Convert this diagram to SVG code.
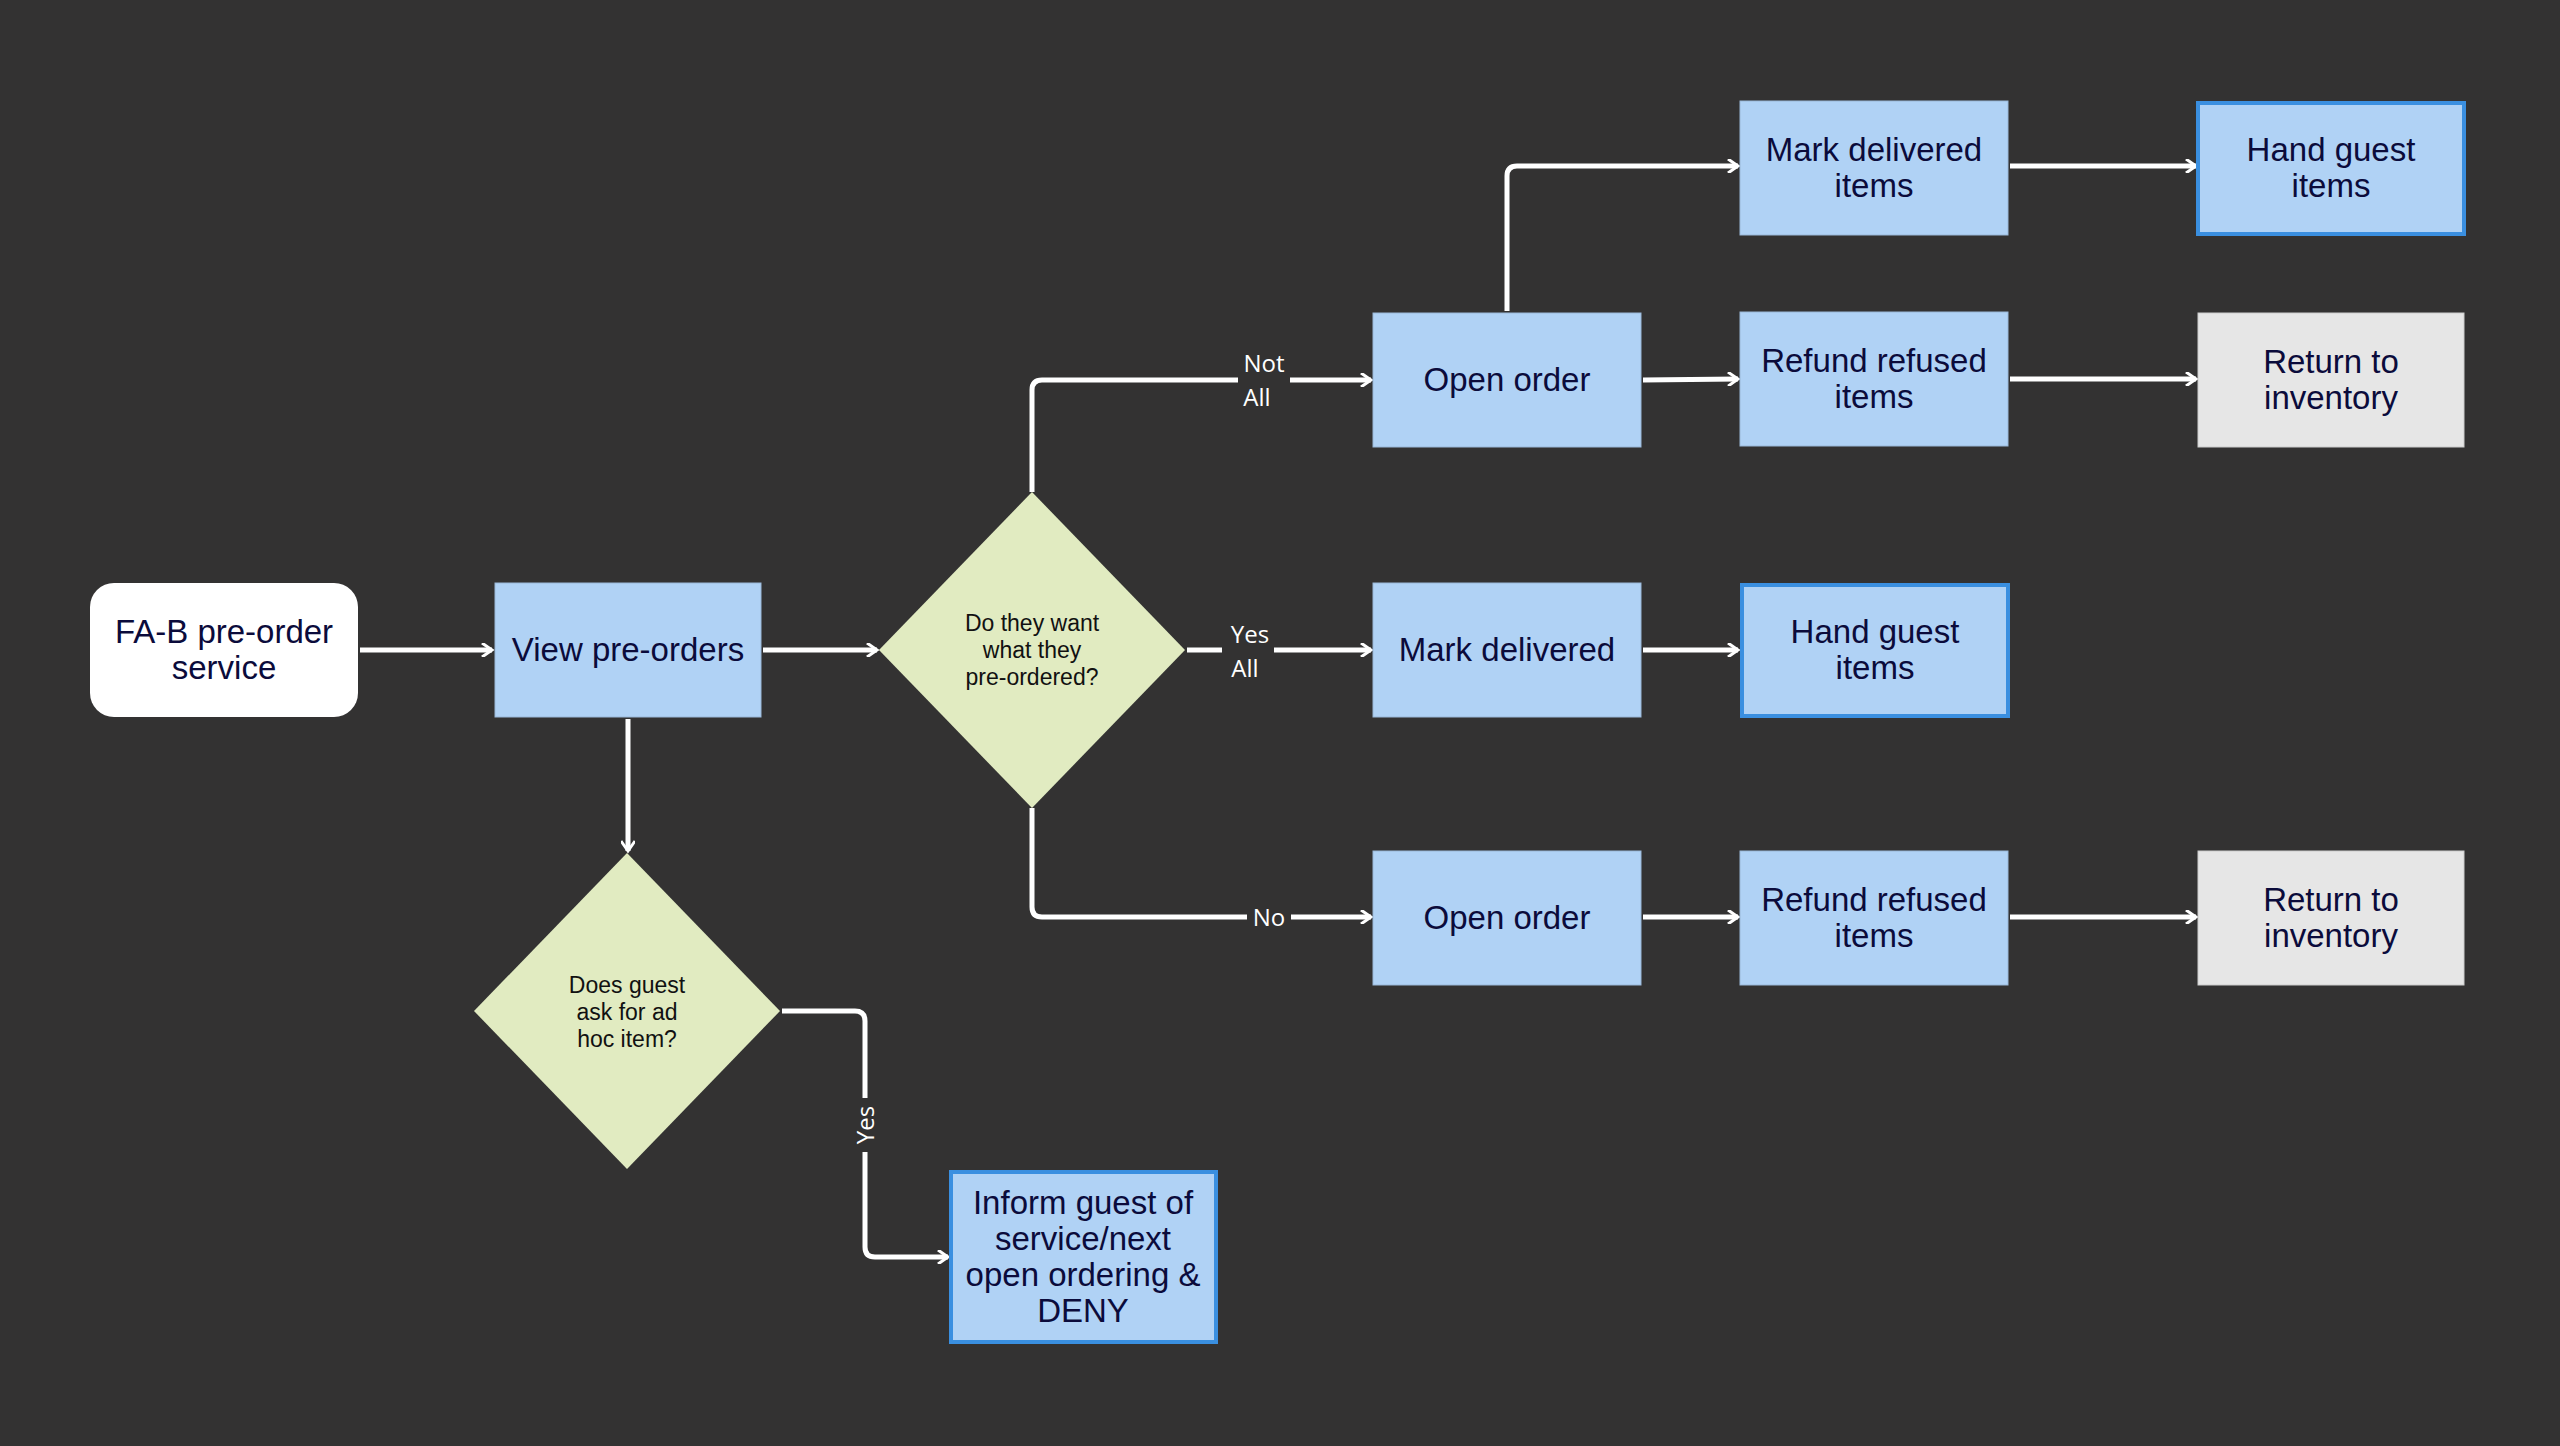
<svg xmlns="http://www.w3.org/2000/svg" width="2560" height="1446" viewBox="0 0 2560 1446">
<defs>
<marker id="ah" markerWidth="14" markerHeight="14" refX="11" refY="7" orient="auto" markerUnits="userSpaceOnUse" viewBox="0 0 14 14">
<path d="M1,0 L11,7 L1,14" fill="none" stroke="#fff" stroke-width="3"/>
</marker>
<style>
.c{fill:none;stroke:#fff;stroke-width:5;stroke-linejoin:round;marker-end:url(#ah)}
.b{fill:#b0d2f5;stroke:#9ab8d8;stroke-width:1}
.bb{fill:#b0d2f5;stroke:#3a8fe0;stroke-width:4}
.g{fill:#e6e6e6;stroke:#ccc;stroke-width:1}
.d{fill:#e1ebc1}
.t{font-family:"Liberation Sans",Arial,sans-serif;font-size:33px;fill:#0b0b3b;text-anchor:middle}
.dt{font-family:"Liberation Sans",Arial,sans-serif;font-size:23px;fill:#111;text-anchor:middle}
.l{font-family:"Open Sans","Liberation Sans",sans-serif;font-size:24px;fill:#fff;text-anchor:middle}
.lb{fill:#333232}
</style>
</defs>
<rect width="2560" height="1446" fill="#333232"/>
<g id="connectors">
<path class="c" d="M360,650 H492"/>
<path class="c" d="M763,650 H877"/>
<path class="c" d="M628,719 V851"/>
<path class="c" d="M1032,492 V390 Q1032,380 1042,380 H1371"/>
<path class="c" d="M1187,650 H1371"/>
<path class="c" d="M1032,808 V907 Q1032,917 1042,917 H1371"/>
<path class="c" d="M1507,311 V176 Q1507,166 1517,166 H1738"/>
<path class="c" d="M1643,380 L1738,379"/>
<path class="c" d="M2010,166 H2196"/>
<path class="c" d="M2010,379 H2196"/>
<path class="c" d="M1643,650 H1738"/>
<path class="c" d="M1643,917 H1738"/>
<path class="c" d="M2010,917 H2196"/>
<path class="c" d="M782,1011 H855 Q865,1011 865,1021 V1247 Q865,1257 875,1257 H948"/>
<rect class="lb" x="1238" y="340" width="52" height="75"/>
<text class="l" x="1264" y="372">Not</text>
<text class="l" x="1257" y="406">All</text>
<rect class="lb" x="1222" y="615" width="52" height="75"/>
<text class="l" x="1250" y="643">Yes</text>
<text class="l" x="1245" y="677">All</text>
<rect class="lb" x="1247" y="900" width="44" height="34"/>
<text class="l" x="1269" y="926">No</text>
<rect class="lb" x="850" y="1098" width="30" height="54"/>
<text class="l" transform="translate(874,1125) rotate(-90)">Yes</text>
</g>
<g id="start"><rect x="90" y="583" width="268" height="134" rx="24" fill="#fff"/><text class="t" x="224" y="643">FA-B pre-order</text><text class="t" x="224" y="679">service</text></g>
<g id="view"><rect class="b" x="495" y="583" width="266" height="134"/><text class="t" x="628" y="661">View pre-orders</text></g>
<g id="dec1"><path class="d" d="M1032,492 L1185,650 L1032,808 L879,650 Z"/><text class="dt" x="1032" y="631">Do they want</text><text class="dt" x="1032" y="658">what they</text><text class="dt" x="1032" y="685">pre-ordered?</text></g>
<g id="dec2"><path class="d" d="M627,853 L780,1011 L627,1169 L474,1011 Z"/><text class="dt" x="627" y="993">Does guest</text><text class="dt" x="627" y="1020">ask for ad</text><text class="dt" x="627" y="1047">hoc item?</text></g>
<g id="open1"><rect class="b" x="1373" y="313" width="268" height="134"/><text class="t" x="1507" y="391">Open order</text></g>
<g id="markitems"><rect class="b" x="1740" y="101" width="268" height="134"/><text class="t" x="1874" y="161">Mark delivered</text><text class="t" x="1874" y="197">items</text></g>
<g id="hand1"><rect class="bb" x="2198" y="103" width="266" height="131"/><text class="t" x="2331" y="161">Hand guest</text><text class="t" x="2331" y="197">items</text></g>
<g id="refund1"><rect class="b" x="1740" y="312" width="268" height="134"/><text class="t" x="1874" y="372">Refund refused</text><text class="t" x="1874" y="408">items</text></g>
<g id="return1"><rect class="g" x="2198" y="313" width="266" height="134"/><text class="t" x="2331" y="373">Return to</text><text class="t" x="2331" y="409">inventory</text></g>
<g id="markdel"><rect class="b" x="1373" y="583" width="268" height="134"/><text class="t" x="1507" y="661">Mark delivered</text></g>
<g id="hand2"><rect class="bb" x="1742" y="585" width="266" height="131"/><text class="t" x="1875" y="643">Hand guest</text><text class="t" x="1875" y="679">items</text></g>
<g id="open2"><rect class="b" x="1373" y="851" width="268" height="134"/><text class="t" x="1507" y="929">Open order</text></g>
<g id="refund2"><rect class="b" x="1740" y="851" width="268" height="134"/><text class="t" x="1874" y="911">Refund refused</text><text class="t" x="1874" y="947">items</text></g>
<g id="return2"><rect class="g" x="2198" y="851" width="266" height="134"/><text class="t" x="2331" y="911">Return to</text><text class="t" x="2331" y="947">inventory</text></g>
<g id="inform"><rect class="bb" x="951" y="1172" width="265" height="170"/><text class="t" x="1083" y="1214">Inform guest of</text><text class="t" x="1083" y="1250">service/next</text><text class="t" x="1083" y="1286">open ordering &amp;</text><text class="t" x="1083" y="1322">DENY</text></g>
</svg>
